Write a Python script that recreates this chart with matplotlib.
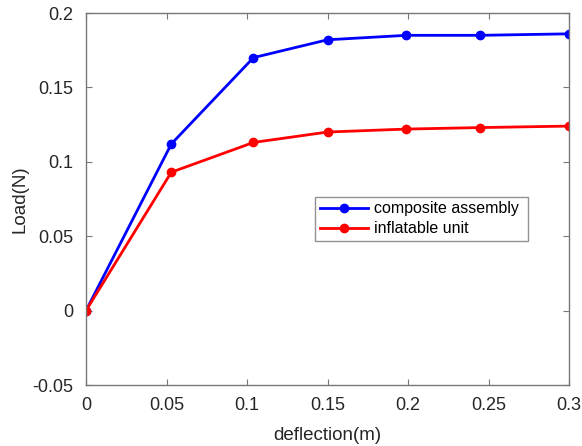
import matplotlib.pyplot as plt

plt.rcParams['font.family'] = ['Liberation Sans', 'DejaVu Sans']

deflection = [0, 0.053, 0.104, 0.15, 0.199, 0.245, 0.3]
composite = [0, 0.112, 0.170, 0.182, 0.185, 0.185, 0.186]
inflatable = [0, 0.093, 0.113, 0.120, 0.122, 0.123, 0.124]

fig = plt.figure(figsize=(5.82, 4.46), dpi=100)
ax = fig.add_axes([86/582, 1 - 385/446, 483/582, 372/446])

ax.plot(deflection, composite, color='#0000ff', lw=2, marker='o', ms=6,
        label='composite assembly')
ax.plot(deflection, inflatable, color='#ff0000', lw=2, marker='o', ms=6,
        label='inflatable unit')

ax.set_xlim(0, 0.3)
ax.set_ylim(-0.05, 0.2)
ax.set_xticks([0, 0.05, 0.1, 0.15, 0.2, 0.25, 0.3])
ax.set_xticklabels(['0', '0.05', '0.1', '0.15', '0.2', '0.25', '0.3'])
ax.set_yticks([-0.05, 0, 0.05, 0.1, 0.15, 0.2])
ax.set_yticklabels(['-0.05', '0', '0.05', '0.1', '0.15', '0.2'])

for s in ax.spines.values():
    s.set_color('#777777')
    s.set_linewidth(1)
ax.tick_params(direction='in', top=True, right=True, length=4,
               color='#777777', labelsize=13, labelcolor='#262626', pad=9)

ax.set_xlabel('deflection(m)', fontsize=13.5, color='#262626', labelpad=9)
ax.set_ylabel('Load(N)', fontsize=13.5, color='#262626', labelpad=3)

leg = ax.legend(loc='lower left', bbox_to_anchor=(0.474, 0.387, 0.441, 0.129),
                mode='expand', fontsize=11.5, fancybox=False, handlelength=3,
                borderpad=0.3, labelspacing=0.3, handletextpad=0.4,
                borderaxespad=0)
leg.get_frame().set_edgecolor('#777777')
leg.get_frame().set_linewidth(1)

fig.savefig('out.png', dpi=100)
